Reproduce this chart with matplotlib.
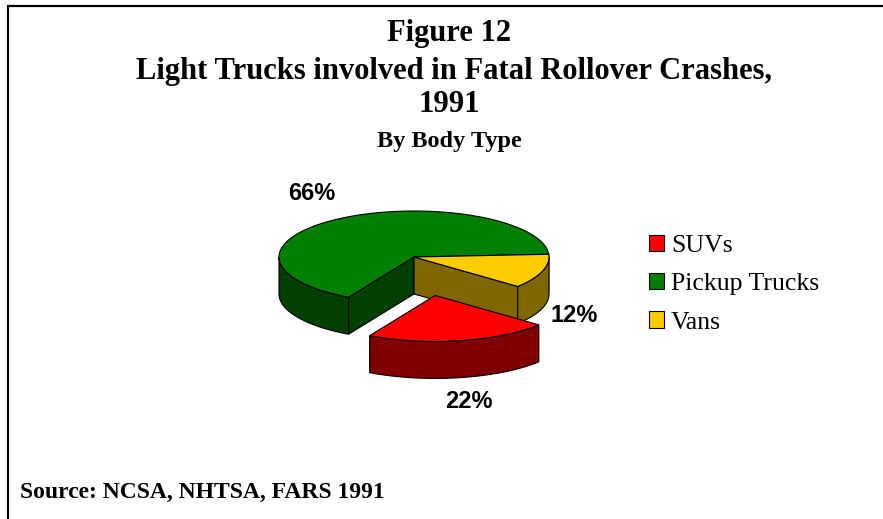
import numpy as np
import matplotlib
matplotlib.use("Agg")
import matplotlib.pyplot as plt
from matplotlib.patches import Polygon, Patch

# ---- data ----
categories = ["SUVs", "Pickup Trucks", "Vans"]
values = [22, 66, 12]
pct_labels = ["22%", "66%", "12%"]
top_colors = ["#FF0000", "#008000", "#FFCC00"]
side_colors = ["#800000", "#004000", "#806600"]
explode = [0.85, 0.0, 0.0]
start_angle = 320.2  # degrees, slices run clockwise

# ---- geometry (pixel space) ----
W, H = 883, 519
cx, cy = 414, 257
rx, ry = 135, 46
depth = 37

fig = plt.figure(figsize=(W / 100, H / 100), dpi=100)
ax = fig.add_axes([0, 0, 1, 1])
ax.set_xlim(0, W)
ax.set_ylim(H, 0)
ax.axis("off")

# frame (top and left edges only)
ax.plot([8, 8], [6, H + 5], color="black", lw=1.6, solid_capstyle="butt")
ax.plot([7.2, W + 5], [6, 6], color="black", lw=1.6, solid_capstyle="butt")

total = float(sum(values))
bounds = []
a = start_angle
for v in values:
    b = a - 360.0 * v / total
    bounds.append((b, a))  # counterclockwise from b to a
    a = b


def pt(t, ox, oy, dz=0.0):
    r = np.radians(t)
    return (ox + rx * np.cos(r), oy - ry * np.sin(r) + dz)


def arc(t0, t1, ox, oy, dz=0.0, n=120):
    ts = np.linspace(t0, t1, n)
    r = np.radians(ts)
    return np.column_stack([ox + rx * np.cos(r), oy - ry * np.sin(r) + dz])


ec = "black"
lw = 0.8

offsets = []
for (b, a), e in zip(bounds, explode):
    mid = np.radians((a + b) / 2)
    offsets.append((cx + e * rx * np.cos(mid), cy - e * ry * np.sin(mid)))


def draw_slice(i, z):
    b, a = bounds[i]
    ox, oy = offsets[i]
    # cut faces visible if their outward normal points toward viewer
    for t, sgn in ((a, 1), (b, -1)):
        nrm = np.radians(t + sgn * 90)
        if np.sin(nrm) < 0:
            p0 = (ox, oy)
            p1 = pt(t, ox, oy)
            p2 = pt(t, ox, oy, depth)
            p3 = (ox, oy + depth)
            ax.add_patch(Polygon([p0, p1, p2, p3], closed=True, fc=side_colors[i],
                                 ec=ec, lw=lw, zorder=z))
    # outer wall: visible front part (angles in 180..360)
    bb, aa = b, a
    while bb < 0:
        bb += 360
        aa += 360
    segs = []
    for k in (-1, 0, 1):
        s0 = max(bb, 180 + 360 * k)
        s1 = min(aa, 360 + 360 * k)
        if s1 > s0:
            segs.append((s0, s1))
    for s0, s1 in segs:
        top = arc(s0, s1, ox, oy)
        bot = arc(s1, s0, ox, oy, depth)
        ax.add_patch(Polygon(np.vstack([top, bot]), closed=True, fc=side_colors[i],
                             ec=ec, lw=lw, zorder=z + 0.1))
    # top face
    face = np.vstack([[ox, oy], arc(b, a, ox, oy)])
    ax.add_patch(Polygon(face, closed=True, fc=top_colors[i], ec=ec, lw=lw,
                         zorder=z + 0.2))


draw_slice(1, 2)   # pickup trucks
draw_slice(2, 3)   # vans
draw_slice(0, 5)   # SUVs (exploded, in front)

# percentage labels
lab_font = dict(family="Liberation Sans", fontweight="bold", fontsize=17)
label_pos = [(469, 402), (312, 193), (574, 315)]
for txt, (x, y) in zip(pct_labels, label_pos):
    ax.text(x, y, txt, ha="center", va="center", **lab_font)

# titles
serif = "Liberation Serif"
ax.text(449, 33, "Figure 12", ha="center", va="center", family=serif,
        fontweight="bold", fontsize=22)
ax.text(454, 71, "Light Trucks involved in Fatal Rollover Crashes,", ha="center",
        va="center", family=serif, fontweight="bold", fontsize=22)
ax.text(449, 104, "1991", ha="center", va="center", family=serif,
        fontweight="bold", fontsize=22)
ax.text(449, 142, "By Body Type", ha="center", va="center", family=serif,
        fontweight="bold", fontsize=17.5)
ax.text(20, 492, "Source: NCSA, NHTSA, FARS 1991", ha="left", va="center",
        family=serif, fontweight="bold", fontsize=17)

# legend
handles = [Patch(fc=c, ec="black", lw=0.8) for c in top_colors]
leg = ax.legend(handles, categories, loc="upper left",
                bbox_to_anchor=(649 / W, 1 - 235 / H), frameon=False,
                prop=dict(family=serif, size=18.5), handlelength=0.6,
                handleheight=0.6, handletextpad=0.25, labelspacing=0.62,
                borderaxespad=0, borderpad=0)

fig.savefig("out.png", dpi=100, facecolor="white")
